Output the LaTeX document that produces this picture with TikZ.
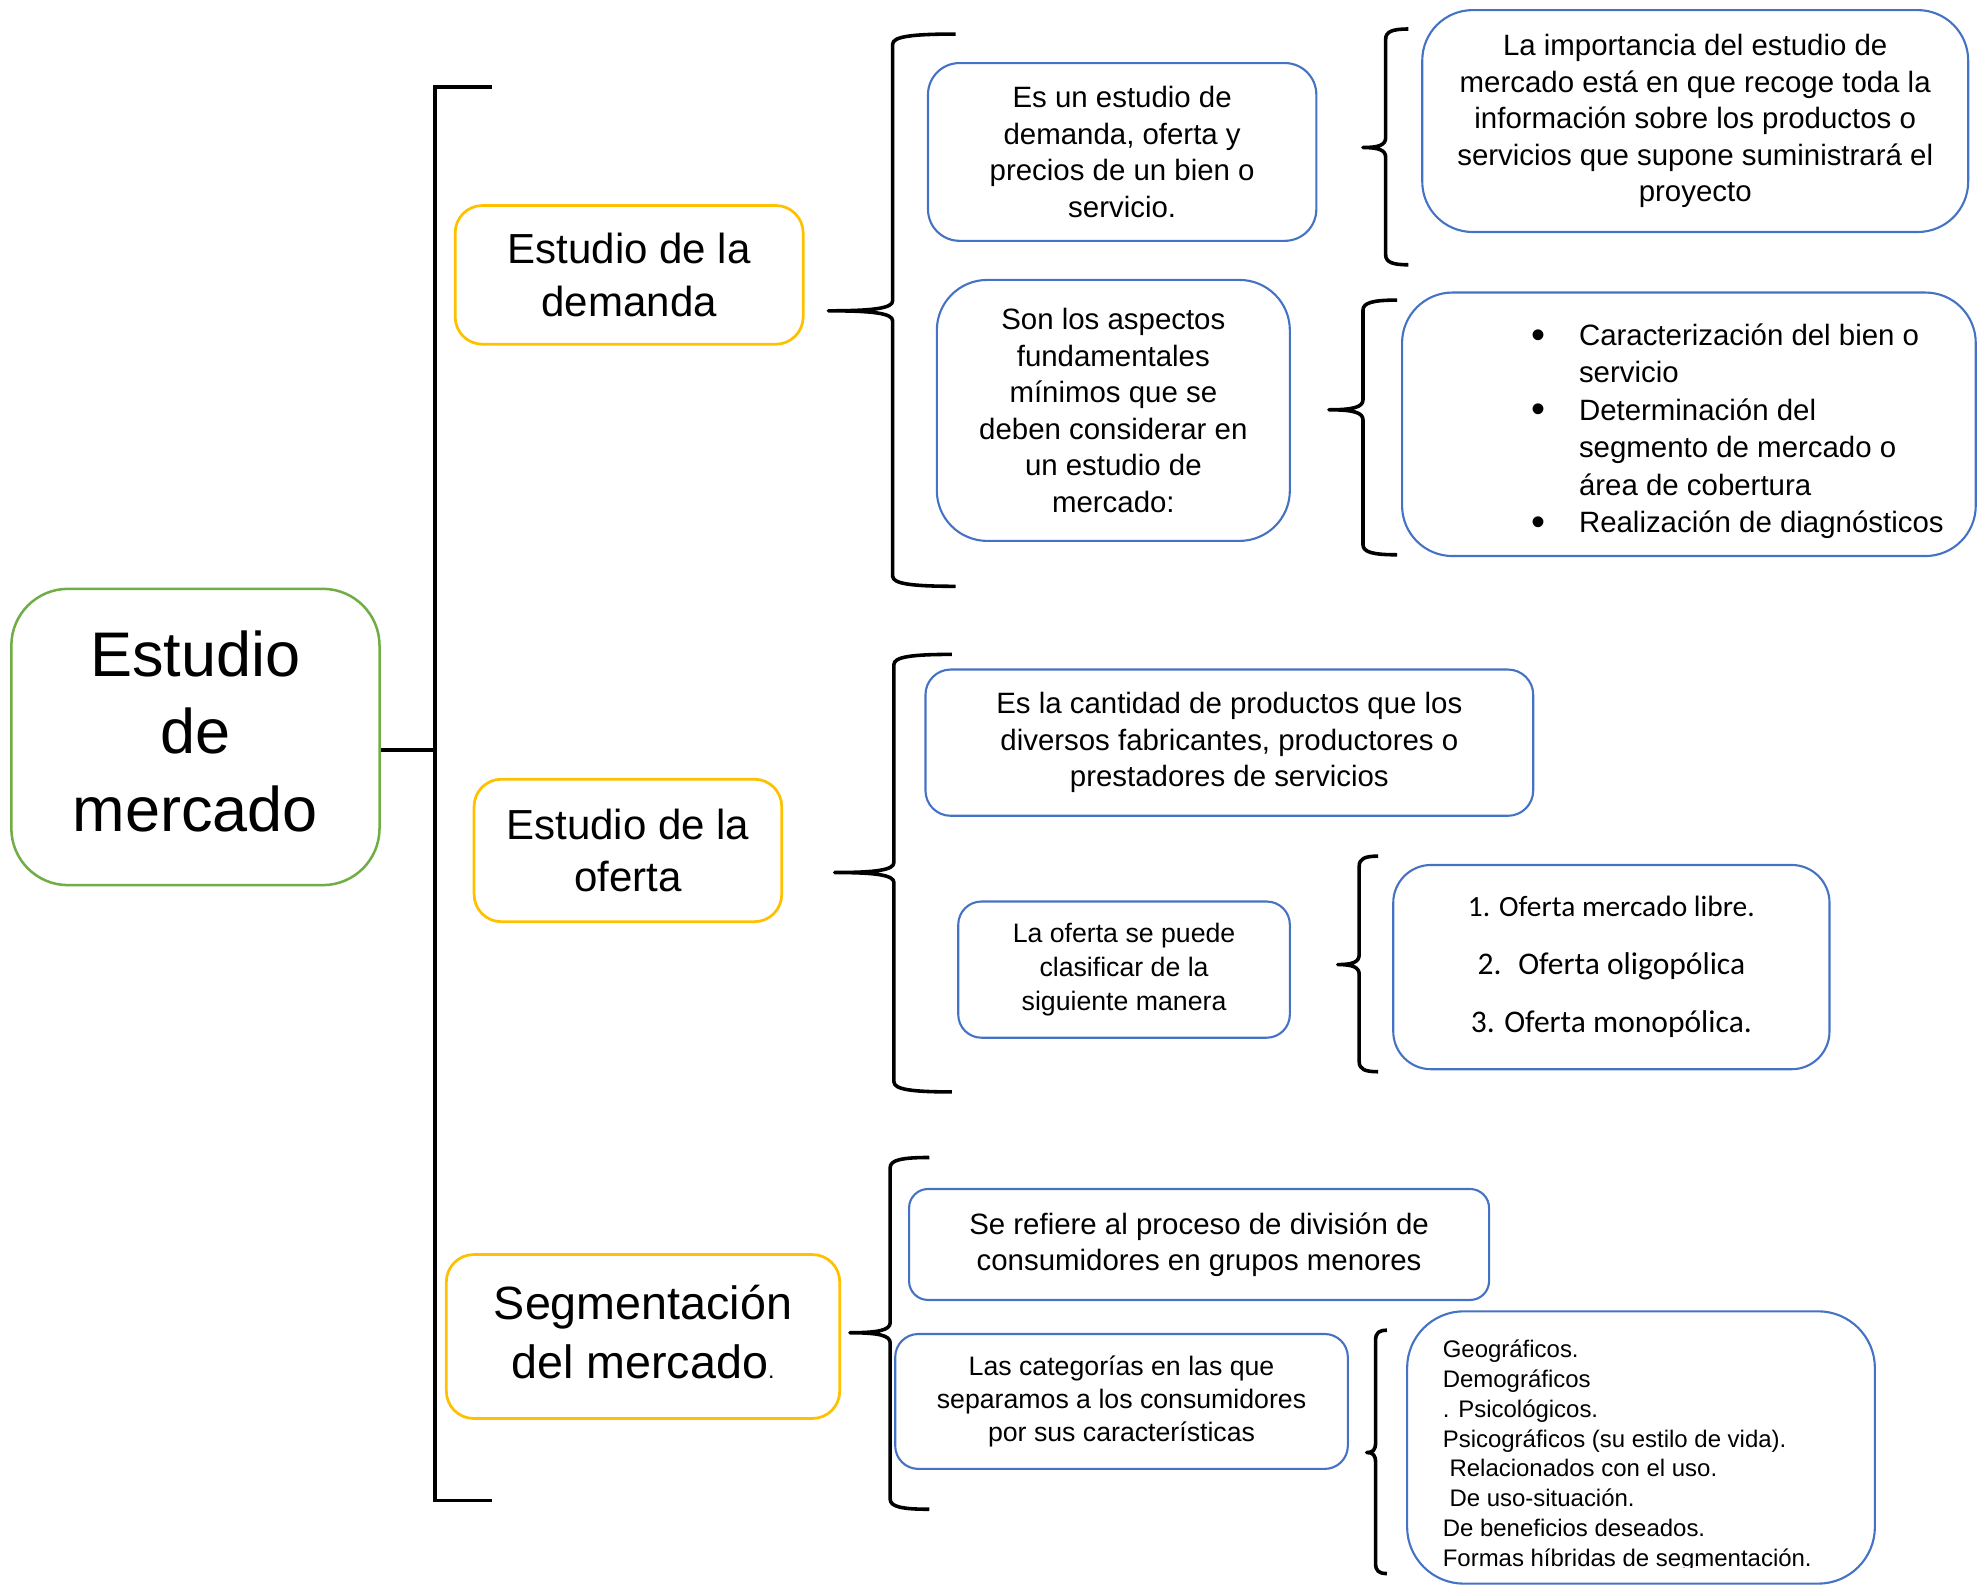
\documentclass[tikz,border=0pt]{standalone}
\usepackage{fontspec}
\setmainfont{Liberation Sans}
\newfontfamily\calibri{Carlito}
\usetikzlibrary{positioning}
\definecolor{verde}{HTML}{70AD47}
\definecolor{ambar}{HTML}{FFC000}
\definecolor{azul}{HTML}{4472C4}
\tikzset{
    raiz/.style = {rectangle, draw=verde, line width=1.2pt, rounded corners=27pt, align=center, font=\fontsize{30}{37}\selectfont},
    tema/.style = {rectangle, draw=ambar, line width=1.3pt, rounded corners=13pt, align=center, font=\fontsize{20}{25}\selectfont},
    cuadro/.style = {rectangle, draw=azul, line width=1pt, rounded corners=15pt, align=center, font=\fontsize{14}{17.4}\selectfont},
    lista/.style = {align=left, inner sep=0pt, anchor=west},
    corchete/.style = {line width=1.8pt, black},
    llave/.style = {line width=1.7pt, black, line join=round}
}
\newcommand{\vineta}{\makebox[22.8pt][l]{\raisebox{-1.2pt}{\fontsize{19}{17.8}\selectfont\textbullet}}}
% #1 x vertical, #2 x extremos, #3 x punta, #4 y arriba, #5 y punta, #6 y abajo
\newcommand{\dibujallave}[6]{%
  \draw[llave] (#2,#4) .. controls ({#1+0.3*(#2-#1)},#4) and (#1,#4+2) .. (#1,#4+8)
    -- (#1,#5-8) .. controls (#1,#5-2) and ({#1-0.3*(#1-#3)},#5) .. (#3,#5)
    .. controls ({#1-0.3*(#1-#3)},#5) and (#1,#5+2) .. (#1,#5+8)
    -- (#1,#6-8) .. controls (#1,#6-2) and ({#1+0.3*(#2-#1)},#6) .. (#2,#6);}

\begin{document}
\begin{tikzpicture}[x=0.6pt,y=-0.6pt]
\useasboundingbox (0,0) rectangle (1568,1259);
%
\node[raiz, minimum width=175.2pt, minimum height=141pt] at (155,584.5) (mercado) {};
\node[align=center, font=\fontsize{30}{37}\selectfont] at (155,580) (titulo) {Estudio\\de\\mercado};
\coordinate (tronco) at (345,595);
\draw[corchete] (mercado.east |- tronco) -- (tronco);
\draw[corchete] (390,69) -- (345,69) -- (345,1190) -- (390,1190);
%
\node[tema, minimum width=165.6pt, minimum height=66pt] at (499,218) (demanda) {Estudio de la\\demanda};
\node[tema, minimum width=146.4pt, minimum height=67.8pt] at (498,674.5) (oferta) {Estudio de la\\oferta};
\node[tema, minimum width=187.2pt, minimum height=78pt] at (510,1060) (segmento) {};
\node[align=center, font=\fontsize{22.2}{28}\selectfont] at (510,1056.5) (segtexto) {Segmentación\\del mercado{\fontsize{11}{11}\selectfont.}};
%
\dibujallave{708}{758}{657}{27}{246.5}{465}
\dibujallave{709}{755}{662}{519}{692}{866}
\dibujallave{706}{737}{674}{918}{1057}{1197}
\dibujallave{1099}{1117}{1081}{23}{117}{210}
\dibujallave{1081}{1108}{1054}{238}{325}{440}
\dibujallave{1078}{1093}{1061}{679}{765}{850}
\dibujallave{1091}{1100}{1084}{1055}{1152}{1248}
%
\node[cuadro, minimum width=184.8pt, minimum height=84.6pt] at (890,120.5) (defdemanda) {Es un estudio de\\demanda, oferta y\\precios de un bien o\\servicio.};
\node[cuadro, minimum width=168pt, minimum height=124.2pt, rounded corners=24pt] at (883,325.5) (aspectos) {Son los aspectos\\fundamentales\\mínimos que se\\deben considerar en\\un estudio de\\mercado:};
\node[cuadro, minimum width=259.8pt, minimum height=105.6pt, rounded corners=24pt] at (1344.5,96) (importancia) {La importancia del estudio de\\mercado está en que recoge toda la\\información sobre los productos o\\servicios que supone suministrará el\\proyecto};
\node[cuadro, minimum width=273pt, minimum height=125.4pt, rounded corners=24pt] at (1339.5,336.5) (puntos) {};
\begin{scope}
\clip (1112,232) rectangle (1568,427);
\node[lista, font=\fontsize{14}{17.8}\selectfont] at (1214,342) (rasgos) {\vineta Caracterización del bien o\\
\hspace*{22.8pt}servicio\\
\vineta Determinación del\\
\hspace*{22.8pt}segmento de mercado o\\
\hspace*{22.8pt}área de cobertura\\
\vineta Realización de diagnósticos};
\end{scope}
%
\node[cuadro, minimum width=289.2pt, minimum height=69.6pt, rounded corners=12pt] at (975,589) (cantidad) {Es la cantidad de productos que los\\diversos fabricantes, productores o\\prestadores de servicios};
\node[cuadro, minimum width=157.8pt, minimum height=64.8pt, rounded corners=11pt, font=\fontsize{12.7}{16.2}\selectfont] at (891.5,769) (clasifica) {La oferta se puede\\clasificar de la\\siguiente manera};
\node[cuadro, minimum width=207.6pt, minimum height=97.2pt, rounded corners=18pt, font=\calibri\fontsize{15}{27.6}\selectfont] at (1278,767) (tipos) {{\fontsize{14}{27.6}\selectfont 1. Oferta mercado libre.}\\2.\hspace{8pt}Oferta oligopólica\\3. Oferta monopólica.};
%
\node[cuadro, minimum width=276pt, minimum height=52.8pt, rounded corners=9pt, font=\fontsize{14}{17}\selectfont] at (951,987) (division) {Se refiere al proceso de división de\\consumidores en grupos menores};
\node[cuadro, minimum width=215.4pt, minimum height=64.2pt, rounded corners=11pt, font=\fontsize{12.7}{15.6}\selectfont] at (889.5,1111.5) (categorias) {Las categorías en las que\\separamos a los consumidores\\por sus características};
\node[cuadro, minimum width=222.6pt, minimum height=129.6pt, rounded corners=27pt] at (1301.5,1148) (criterios) {};
\begin{scope}
\clip (1116,1040) rectangle (1487,1243);
\node[lista, font=\fontsize{11.4}{14.2}\selectfont] at (1144,1154.5) (variables) {Geográficos.\\
Demográficos\\
. Psicológicos.\\
Psicográficos (su estilo de vida).\\
\hspace*{3.2pt}Relacionados con el uso.\\
\hspace*{3.2pt}De uso-situación.\\
De beneficios deseados.\\
Formas híbridas de segmentación.};
\end{scope}
\end{tikzpicture}
\end{document}
